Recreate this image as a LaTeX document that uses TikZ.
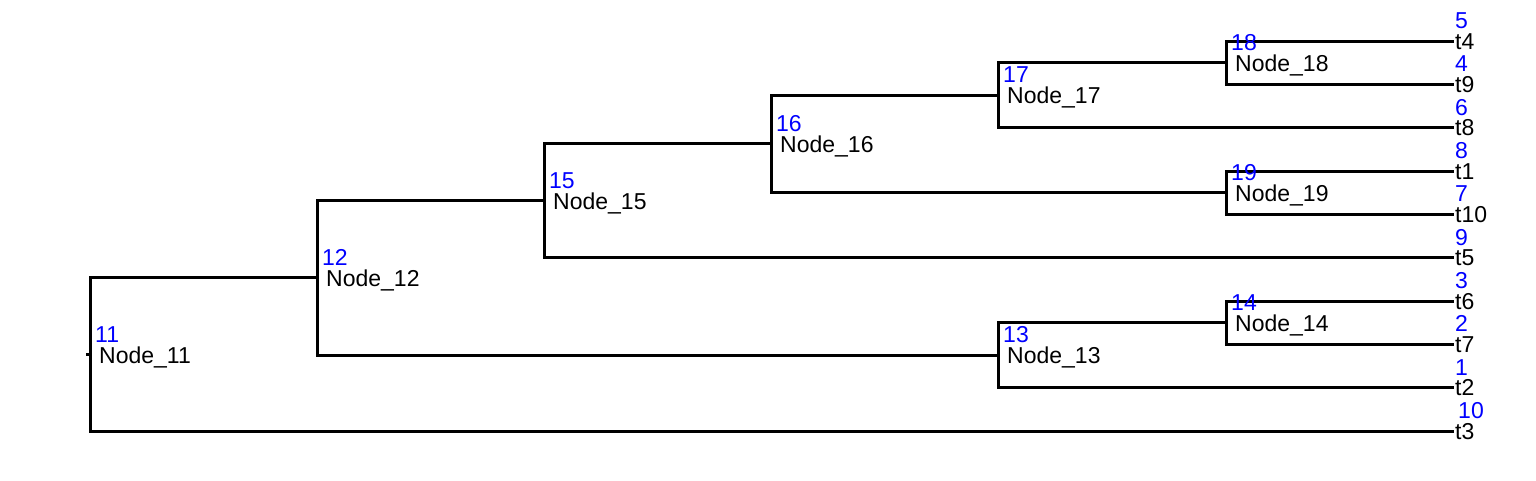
\documentclass[tikz,border=0pt]{standalone}
\usepackage{fontspec}
\setmainfont{Liberation Sans}
\begin{document}
\begin{tikzpicture}[x=1pt,y=-1pt,
  edge/.style={draw=black,line width=3pt},
  lbl/.style={inner sep=0pt,anchor=base west,font=\fontsize{23}{27}\selectfont,text=black},
  num/.style={inner sep=0pt,anchor=base west,font=\fontsize{23}{27}\selectfont,text=blue}]
\useasboundingbox (0,0) rectangle (1536,480);
% internal nodes
\coordinate (n11) at (90,354.5);
\coordinate (n12) at (317,277.98);
\coordinate (n15) at (544,200.8);
\coordinate (n16) at (771,143.92);
\coordinate (n17) at (998,95.17);
\coordinate (n18) at (1226,62.67);
\coordinate (n19) at (1226,192.67);
\coordinate (n13) at (998,355.17);
\coordinate (n14) at (1226,322.67);
\coordinate (root) at (86,354.5);
% tips
\coordinate (t4) at (1454,41);
\coordinate (t9) at (1454,84.33);
\coordinate (t8) at (1454,127.67);
\coordinate (t1) at (1454,171);
\coordinate (t10) at (1454,214.33);
\coordinate (t5) at (1454,257.67);
\coordinate (t6) at (1454,301);
\coordinate (t7) at (1454,344.33);
\coordinate (t2) at (1454,387.67);
\coordinate (t3) at (1454,431);
% edges
\path[edge] (root) -- (n11);
\path[edge] (n11) |- (n12);
\path[edge] (n11) |- (t3);
\path[edge] (n12) |- (n15);
\path[edge] (n12) |- (n13);
\path[edge] (n15) |- (n16);
\path[edge] (n15) |- (t5);
\path[edge] (n16) |- (n17);
\path[edge] (n16) |- (n19);
\path[edge] (n17) |- (n18);
\path[edge] (n17) |- (t8);
\path[edge] (n18) |- (t4);
\path[edge] (n18) |- (t9);
\path[edge] (n19) |- (t1);
\path[edge] (n19) |- (t10);
\path[edge] (n13) |- (n14);
\path[edge] (n13) |- (t2);
\path[edge] (n14) |- (t6);
\path[edge] (n14) |- (t7);
% internal labels
\foreach \n in {11,12,15,16,17,18,19,13,14}{
  \node[lbl] (L\n) at ([xshift=9pt,yshift=-8.5pt]n\n) {Node\_\n};
  \node[num] (N\n) at ([xshift=5pt,yshift=12.5pt]n\n) {\n};
}
% tip labels
\foreach \t/\k in {4/5,9/4,8/6,1/8,10/7,5/9,6/3,7/2,2/1}{
  \node[lbl] (Lt\t) at ([xshift=1pt,yshift=-8pt]t\t) {t\t};
  \node[num] (Nt\t) at ([xshift=1pt,yshift=12.5pt]t\t) {\k};
}
\node[lbl] (Lt3) at ([xshift=1pt,yshift=-8pt]t3) {t3};
\node[num] (Nt3) at ([xshift=4pt,yshift=12.5pt]t3) {10};
\end{tikzpicture}
\end{document}
